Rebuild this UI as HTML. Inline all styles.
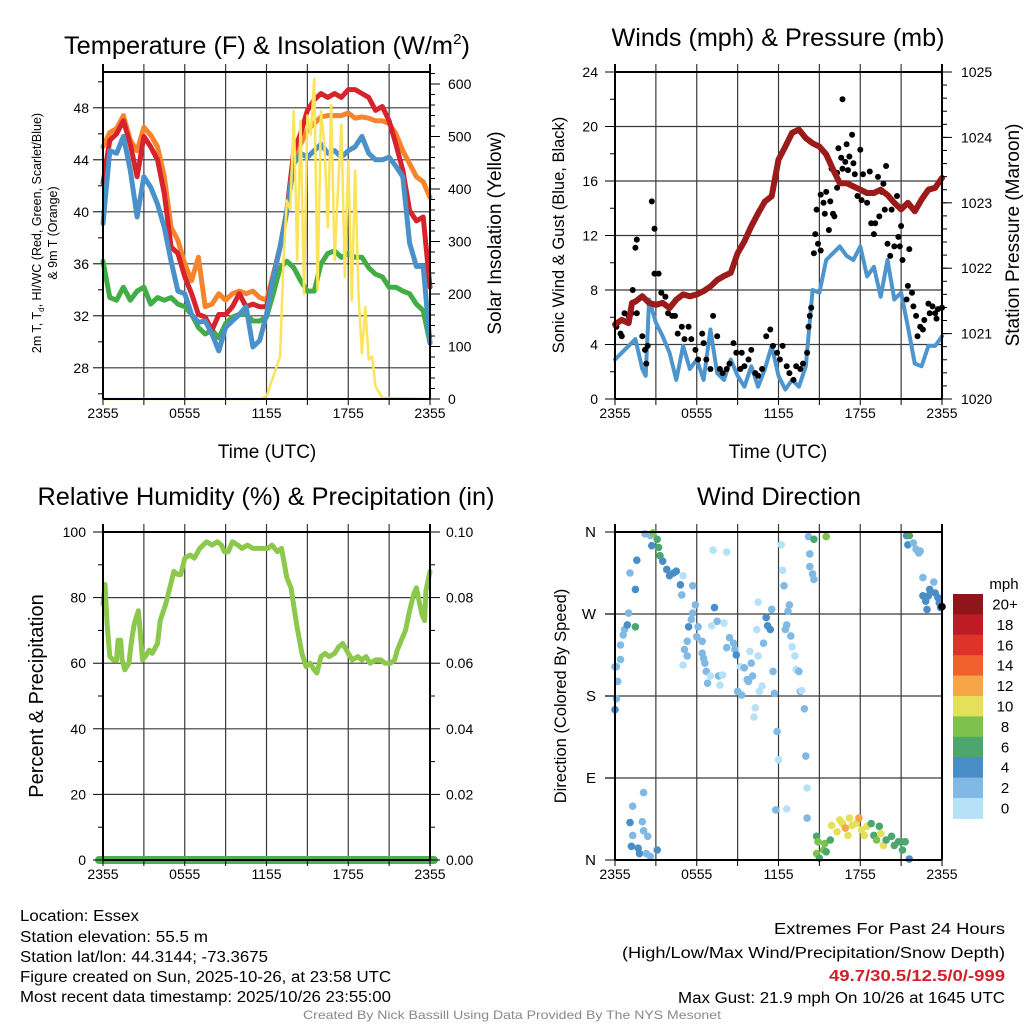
<!DOCTYPE html>
<html><head><meta charset="utf-8"><title>Mesonet Station Plots</title>
<style>
html,body{margin:0;padding:0;background:#fff;}
svg{display:block;font-family:"Liberation Sans",Arial,sans-serif;}
</style></head>
<body>
<svg id="fig" width="1024" height="1024" viewBox="0 0 1024 1024" xmlns="http://www.w3.org/2000/svg">
<rect x="0" y="0" width="1024" height="1024" fill="#fff"/>
<g id="grids"></g>
<g id="marks"></g>
<g id="axes"></g>

<!-- titles -->
<text x="267" y="54" font-size="25" text-anchor="middle" textLength="406" lengthAdjust="spacingAndGlyphs">Temperature (F) &amp; Insolation (W/m<tspan dy="-10" font-size="15">2</tspan><tspan dy="10">)</tspan></text>
<text x="778" y="46" font-size="25" text-anchor="middle" textLength="333" lengthAdjust="spacingAndGlyphs">Winds (mph) &amp; Pressure (mb)</text>
<text x="266" y="505" font-size="25" text-anchor="middle" textLength="457" lengthAdjust="spacingAndGlyphs">Relative Humidity (%) &amp; Precipitation (in)</text>
<text x="779" y="505" font-size="25" text-anchor="middle" textLength="164" lengthAdjust="spacingAndGlyphs">Wind Direction</text>

<!-- axis titles -->
<text x="267" y="458" font-size="19" text-anchor="middle">Time (UTC)</text>
<text x="778" y="458" font-size="19" text-anchor="middle">Time (UTC)</text>
<text transform="translate(41,233) rotate(-90)" font-size="12.5" text-anchor="middle">2m T, T<tspan font-size="8" dy="3">d</tspan><tspan dy="-3">, HI/WC (Red, Green, Scarlet/Blue)</tspan></text>
<text transform="translate(57,233) rotate(-90)" font-size="12.5" text-anchor="middle">&amp; 9m T (Orange)</text>
<text transform="translate(501,233) rotate(-90)" font-size="19" text-anchor="middle">Solar Insolation (Yellow)</text>
<text transform="translate(564,235) rotate(-90)" font-size="16.5" text-anchor="middle">Sonic Wind &amp; Gust (Blue, Black)</text>
<text transform="translate(1019,235) rotate(-90)" font-size="19" text-anchor="middle">Station Pressure (Maroon)</text>
<text transform="translate(43,696) rotate(-90)" font-size="20" text-anchor="middle">Percent &amp; Precipitation</text>
<text transform="translate(566,696) rotate(-90)" font-size="16.5" text-anchor="middle">Direction (Colored By Speed)</text>

<!-- footer -->
<g font-size="15.5" fill="#000">
<text x="20" y="921" textLength="119" lengthAdjust="spacingAndGlyphs">Location: Essex</text>
<text x="20" y="942" textLength="188" lengthAdjust="spacingAndGlyphs">Station elevation: 55.5 m</text>
<text x="20" y="962" textLength="248" lengthAdjust="spacingAndGlyphs">Station lat/lon: 44.3144; -73.3675</text>
<text x="20" y="982" textLength="371" lengthAdjust="spacingAndGlyphs">Figure created on Sun, 2025-10-26, at 23:58 UTC</text>
<text x="20" y="1002" textLength="371" lengthAdjust="spacingAndGlyphs">Most recent data timestamp: 2025/10/26 23:55:00</text>
</g>
<g font-size="15.5" fill="#000">
<text x="774" y="934" textLength="231" lengthAdjust="spacingAndGlyphs">Extremes For Past 24 Hours</text>
<text x="622" y="958" textLength="383" lengthAdjust="spacingAndGlyphs">(High/Low/Max Wind/Precipitation/Snow Depth)</text>
<text x="829" y="981" textLength="176" lengthAdjust="spacingAndGlyphs" fill="#d0202a" font-weight="bold">49.7/30.5/12.5/0/-999</text>
<text x="678" y="1003" textLength="327" lengthAdjust="spacingAndGlyphs">Max Gust: 21.9 mph On 10/26 at 1645 UTC</text>
</g>
<text x="512" y="1019" font-size="12" fill="#888" text-anchor="middle" textLength="418" lengthAdjust="spacingAndGlyphs">Created By Nick Bassill Using Data Provided By The NYS Mesonet</text>
</svg>

<script>
// ---------- Temperature panel data (hours since 2355 UTC) ----------
const tempHours = [0,0.5,1,1.5,2,2.5,3,3.5,4,4.5,5,5.5,6,6.5,7,7.5,8,8.5,9,9.5,10,10.5,11,11.5,12,12.5,13,13.5,14,14.5,15,15.5,16,16.5,17,17.5,18,18.5,19,19.5,20,20.5,21,21.5,22,22.5,23,23.5,24];
const temp2m = [42.2,45.5,46,47,45.2,42.7,45.8,45,44,41.4,37.3,36.8,35,33.7,32.1,31.9,30.9,32.1,32.1,32.7,33.7,32.7,32.9,32.7,32.7,35,37.3,40.1,44.7,46,47.8,48.6,49.1,48.8,49.1,48.8,49.4,49.4,49.1,48.8,47.8,48.1,47,45.2,43.2,40.1,39.3,39.6,34.2];
const temp9m = [45,46.1,46.4,47.4,45.5,44.7,46.5,45.9,45,42.7,38.8,37.8,36,34.7,36.5,32.7,32.9,33.7,33.2,33.7,33.9,33.7,33.9,33.4,33.2,35.2,37.3,40.1,43.7,45.2,46.3,46.8,47.3,47.4,47.4,47.4,47.6,47.2,47.3,47.2,47,47,46.8,46,44.7,43.7,42.7,42.3,41.1];
const heatWind = [39.1,44.7,44.5,45.8,43.2,39.6,42.7,41.9,40.6,38.8,36.2,33.9,33.7,32.1,31.5,31.6,30.6,29.3,31.1,31.6,32.1,32.7,29.6,30.1,32.1,35,37.3,40.1,43.7,44.5,44.2,44.7,45.2,44.5,44.7,44.2,44.7,45,45.8,44.5,44,44,44.2,43.5,42.7,37.6,35.8,35.8,29.9];
const dewPoint = [36.2,33.4,33.2,34.2,33.2,33.9,34.2,32.9,33.4,33.2,33.4,32.9,32.7,32.1,31.1,30.6,30.9,30.3,31.4,31.9,32.1,32.1,31.6,31.6,31.9,33.7,35.7,36.2,35.7,34.7,33.9,33.9,36,36.8,37,36.5,36.8,36.5,36.5,35.7,35.2,35,34.2,34.2,33.9,33.7,32.9,32.4,29.9];
const solarHours = [0,11.5,12,12.5,13,13.25,13.5,13.75,14,14.25,14.5,14.75,15,15.25,15.5,15.75,16,16.25,16.5,16.75,17,17.25,17.5,17.75,18,18.25,18.5,18.75,19,19.25,19.5,19.75,20,20.5,24];
const solarValues = [0,0,5,43,81,264,378,360,548,264,530,200,540,504,610,207,548,485,327,560,264,400,523,232,454,188,435,200,87,175,75,81,24,2,0];
const tempTicks = [28,32,36,40,44,48];
const solarTicks = [0,100,200,300,400,500,600];
const timeTickLabels = ["2355","0555","1155","1755","2355"];

// ---------- Wind panel data ----------
const pressHours = [0,0.5,1,1.25,1.5,2,2.5,3,3.5,4,4.5,5,5.5,6,6.5,7,7.5,8,8.5,9,9.5,10,10.5,11,11.5,12,12.5,13,13.5,14,14.5,15,15.5,16,16.5,17,17.5,18,18.5,19,19.5,20,20.5,21,21.5,22,22.5,23,23.5,24];
const pressValues = [1021.14,1021.21,1021.16,1021.47,1021.49,1021.57,1021.47,1021.44,1021.47,1021.39,1021.52,1021.60,1021.57,1021.60,1021.65,1021.72,1021.82,1021.88,1021.93,1022.23,1022.41,1022.64,1022.84,1023.02,1023.10,1023.66,1023.86,1024.07,1024.12,1023.99,1023.91,1023.86,1023.74,1023.51,1023.30,1023.30,1023.25,1023.20,1023.15,1023.15,1023.20,1023.12,1023.00,1022.90,1023.00,1022.87,1023.05,1023.20,1023.23,1023.38];
const windHours = [0,0.5,1,1.5,2,2.25,2.5,3,3.5,4,4.5,5,5.5,6,6.5,7,7.5,8,8.5,9,9.5,10,10.5,11,11.5,12,12.5,13,13.5,14,14.5,15,15.5,16,16.5,17,17.5,18,18.5,19,19.5,20,20.5,21,21.5,22,22.5,23,23.5,24];
const windSpeed = [2.9,3.4,3.9,4.4,2.2,1.7,7.3,5.6,4.6,3.4,1.4,3.9,2.2,2.9,1.4,5.1,1.9,1.4,2.9,1.7,0.9,2.4,0.9,2.2,3.9,1.7,0.7,1.4,0.9,2.4,8.0,7.8,10.2,10.7,11.2,10.5,10.2,11.2,9,9.7,7.5,10.2,7.3,7.8,5.3,2.6,2.4,3.9,3.9,4.6];
const gustHours = [0.1,0.4,0.5,0.7,1,1.2,1.5,1.6,1.3,1.6,2,2.2,2.3,2.4,2.7,2.9,2.9,3.2,3.4,3.7,3.9,4.2,4.4,4.6,4.9,5.1,5.4,5.6,5.9,6.1,6.4,6.5,6.7,7,7.2,7.5,7.7,7.9,8.2,8.4,8.7,8.9,9.2,9.3,9.5,9.8,10,10.3,10.5,10.8,11.1,11.4,11.6,11.9,12.1,12.3,12.6,12.8,13.1,13.3,13.6,13.8,14.1,14.2,14.3,14.4,14.6,14.7,14.8,14.9,15.1,15.1,15.3,15.4,15.5,15.7,15.8,15.9,16,16.1,16.3,16.3,16.4,16.6,16.7,16.7,16.9,17,17.1,17.2,17.4,17.5,17.6,17.8,18,18.1,18.2,18.5,18.7,18.8,19,19.1,19.3,19.4,19.6,19.7,19.8,19.9,20,20.2,20.3,20.5,20.7,20.8,20.9,21,21.1,21.4,21.5,21.6,21.8,21.9,22.1,22.2,22.4,22.6,22.7,23,23.1,23.3,23.5,23.6,23.7,24];
const gustSpeed = [5.3,4.8,4.6,6.3,6.1,6.3,11.1,11.7,8,6.3,4.6,3.6,2.6,3.9,14.5,12.5,9.2,9.2,7.8,7.5,6.3,6.1,6.1,4.8,5.3,4.4,5.3,4.4,3.6,2.9,4.8,4.1,2.9,2.2,6.1,4.6,2.2,1.9,2.2,2.6,4.1,3.4,2.2,3.4,2.4,2.9,3.6,1.9,1.7,2.2,4.6,5.1,3.9,3.4,2.9,3.9,2.4,1.9,1.4,2.4,2.2,2.6,3.4,5.3,6.1,6.7,10.7,12.1,13.9,11.4,15,10.9,14.4,13.6,15.2,12.4,14.5,16.9,13.6,13.4,16.6,15.5,18.4,17.7,16.9,22,17.4,18.7,16.8,17.8,19.4,17.3,16.5,14.9,18.3,14.6,16.5,14.4,16.7,12.9,12.1,12.9,16.3,13.4,15.2,15.8,13.9,17.1,11.4,10.5,13.9,11.2,14.9,11.9,11.2,12.7,10.2,7.3,8.3,11,7.8,6.8,6.1,4.6,5.3,5.1,5.8,7,6.3,6.8,6.3,5.9,6.6,6.7];
const windTicks = [0,4,8,12,16,20,24];
const pressTicks = [1020,1021,1022,1023,1024,1025];

// ---------- Humidity panel data ----------
const rhHours = [0,0.15,0.3,0.5,0.75,1,1.1,1.3,1.4,1.6,1.9,2.1,2.3,2.6,2.9,3.1,3.4,3.6,4,4.2,4.6,4.9,5.2,5.5,5.7,6,6.4,6.7,7.1,7.6,8,8.4,8.7,8.9,9.2,9.5,9.9,10.2,10.6,11,11.4,11.7,12.1,12.4,12.8,13.1,13.5,13.8,14.2,14.6,14.9,15.2,15.5,15.7,16,16.3,16.6,17,17.3,17.6,18,18.3,18.7,19,19.3,19.6,20,20.4,20.7,21.1,21.4,21.6,21.9,22.2,22.5,22.8,23,23.2,23.4,23.6,23.7,24];
const rhValues = [78,84,72,62,61,61,67,67,61,58,60,67,72,76,61,62,64,63,66,73,78,83,88,87,87,92,93,92,95,97,96,97,96,94,94,97,96,95,96,95,95,95,95,96,94,95,86,83,72,63,59,60,58,57,62,63,62,63,65,66,63,61,62,61,62,60,61,61,60,60,61,64,67,70,76,81,83,79,75,73,82,88];
const precipHours = [0,24];
const precipValues = [0,0];
const rhTicks = [0,20,40,60,80,100];
const precipTickLabels = ["0.00","0.02","0.04","0.06","0.08","0.10"];

// ---------- Wind direction panel data ----------
const dirHours = [0,0.1,0.2,0.1,0,0.4,0.4,0.6,0.7,0.9,1,1.5,1.1,1.5,1.6,2.2,2.6,2.7,2.8,3.1,3.2,3.3,3.5,3.8,4,4.3,4.5,4.8,5,4.9,5.7,5.9,5.7,5.6,5.4,6.1,5.3,5.1,5,5.3,6,6.4,6.4,6.5,6.6,6.7,6.8,7,7.3,7.5,7.6,7.7,7.1,7.2,8.2,7.9,8,8.2,8.4,8.7,8.8,8.9,9,9.3,9.2,9.5,9.7,9.8,9.9,10,10.1,10.3,10.2,10.4,10.5,10.5,10.6,10.8,10.9,11.1,11.2,11.4,11.5,11.6,11.7,11.9,12,11.8,12.6,12.2,12.3,12.4,12.5,12.6,12.7,12.8,12.9,13,13.2,13.3,13.5,13.6,13.7,13.9,14,14.1,14.1,14.2,14.3,14.3,14.5,14.6,14.6,15.5,2.1,1.3,1.1,2,2.1,2.4,1.3,1.2,1.7,1.8,2.3,2.6,3.1,14.8,14.9,14.8,15,15.3,15.4,15.5,15.8,15.9,16.3,16.5,16.7,16.9,17.1,17.2,17.4,17.7,17.9,18.1,18.3,18.5,18.8,19,19.2,19.4,19.5,19.7,19.9,20.3,20.5,20.8,21,21.1,21.3,21.6,21.4,21.5,21.6,21.9,22.1,22.3,22.4,22.6,22.6,22.8,22.9,23,23.1,23.4,23.5,23.7,23.8,23.9,24];
const dirDegrees = [212,212,196,177,165,220,236,247,253,258,271,256,315,297,329,358,356,345,359,352,343,334,328,319,312,315,317,302,312,291,301,280,271,264,256,256,240,231,214,224,245,240,227,221,216,207,194,202,277,262,202,192,257,340,338,203,260,233,244,238,231,225,185,181,212,211,198,196,229,216,202,167,157,253,283,224,185,191,238,266,257,253,275,207,183,141,110,55,56,346,318,301,253,258,273,280,246,234,224,209,207,185,186,166,114,79,46,355,336,322,314,308,352,355,74,59,41,42,32,26,27,15,13,7,7,4,11,26,20,7,2,11,18,9,22,38,31,44,40,35,27,46,38,40,46,33,27,37,40,27,22,37,29,16,22,26,16,20,20,11,20,1,356,346,356,348,341,337,339,310,290,284,275,290,297,305,293,288,282,277,278];
const dirSpeedBin = [1,1,1,1,2,1,1,1,1,2,1,3,1,2,2,1,1,2,4,3,3,3,2,2,2,2,2,2,0,1,1,1,1,1,2,1,1,1,0,1,1,1,1,1,1,1,1,0,2,1,1,0,0,0,0,0,0,1,1,1,1,2,1,1,0,1,1,1,0,1,1,0,0,0,0,0,0,0,1,2,2,2,1,1,1,1,0,1,0,0,0,1,1,1,1,1,1,0,0,0,1,1,0,1,1,0,1,1,1,1,1,1,3,4,1,1,2,1,1,1,1,2,2,2,1,1,2,3,4,4,3,4,4,3,3,5,5,5,5,6,5,5,5,5,6,5,5,5,3,3,4,3,5,5,3,3,3,3,3,3,3,2,2,2,3,1,1,1,1,1,2,2,2,2,2,1,2,2,2,2];
const dirTickLabels = ["N","E","S","W","N"];
const speedLegendLabels = ["20+","18","16","14","12","10","8","6","4","2","0"];
const speedColors = ["#b6e1f6","#80b9e4","#4a8ec8","#4ba76e","#7dc24c","#e5e05a","#f6a646","#f0612e","#de3328","#bd1b26","#8e1519"];

// ---------- axis functions ----------
const P1 = {x0:103, x1:430, y0:72, y1:399};
const P2 = {x0:615, x1:942, y0:72, y1:399};
const P3 = {x0:103, x1:430, y0:532, y1:860};
const P4 = {x0:615, x1:942, y0:532, y1:860};
function xT(p,h){ return p.x0 + h*(p.x1-p.x0)/24; }
function yTemp(v){ return 399 - (v-25.6)*13; }
function ySolar(v){ return 399 - v*(315/600); }
function yWind(v){ return 399 - v*(327/24); }
function yPress(v){ return 399 - (v-1020)*(327/5); }
function yRH(v){ return 860 - v*3.28; }
function yPrecip(v){ return 860 - v*3280; }
function yDir(d){ return 860 - d*(328/360); }

const NS='http://www.w3.org/2000/svg';
const grids=document.getElementById('grids');
const marks=document.getElementById('marks');
const axes=document.getElementById('axes');
function mk(tag,parent,attrs){ const e=document.createElementNS(NS,tag); for(const k in attrs) e.setAttribute(k,attrs[k]); parent.appendChild(e); return e; }

function seriesPath(p,hours,vals,yf){
  let d='';
  for(let i=0;i<hours.length;i++){ d+=(i?'L':'M')+xT(p,hours[i]).toFixed(1)+' '+yf(vals[i]).toFixed(1); }
  return d;
}
function drawLine(p,hours,vals,yf,color,w,name){
  const el=mk('path',marks,{d:seriesPath(p,hours,vals,yf),fill:'none',stroke:color,'stroke-width':w,'stroke-linejoin':'round','stroke-linecap':'round'});
  
  
  return el;
}
function gridLine(x1,y1,x2,y2,name){
  const el=mk('line',grids,{x1:x1,y1:y1,x2:x2,y2:y2,stroke:'#3a3a3a','stroke-width':1.2});
  
  
}
function tick(x1,y1,x2,y2){
  const el=mk('line',axes,{x1:x1,y1:y1,x2:x2,y2:y2,stroke:'#000','stroke-width':1});
  
  
}
function label(x,y,txt,anchor,size,name){
  const el=mk('text',axes,{x:x,y:y,'text-anchor':anchor,'font-size':size});
  el.textContent=txt;
  
  
  return el;
}
function frame(p,name){
  const el=mk('path',axes,{d:`M${p.x0} ${p.y0-8}V${p.y1}M${p.x1} ${p.y0-8}V${p.y1}M${p.x0} ${p.y0}H${p.x1}M${p.x0} ${p.y1}H${p.x1}`,stroke:'#000','stroke-width':2,fill:'none'});
  
  
}
function timeAxis(p,labelY){
  for(let k=0;k<=8;k++){
    const x=xT(p,k*3);
    if(k>0&&k<8) gridLine(x,p.y0-8,x,p.y1,'vertical-grid-line');
    tick(x,p.y1,x,p.y1+6);
  }
  for(let k=0;k<timeTickLabels.length;k++){
    label(xT(p,k*6),labelY,timeTickLabels[k],'middle',14,'x-tick-label');
  }
}

// ----- panel 1 -----
timeAxis(P1,418);
tempTicks.forEach(v=>{ const y=yTemp(v); gridLine(P1.x0,y,P1.x1,y,'horizontal-grid-line'); tick(P1.x0-10,y,P1.x0,y); label(P1.x0-14,y+5,String(v),'end',14,'temperature-tick-label'); });
for(let v=26;v<=50;v+=2){ if(v%4) tick(P1.x0-5,yTemp(v),P1.x0,yTemp(v)); }
solarTicks.forEach(v=>{ const y=ySolar(v); tick(P1.x1,y,P1.x1+10,y); label(P1.x1+18,y+5,String(v),'start',14,'solar-tick-label'); });
for(let v=20;v<=620;v+=20){ if(v%100) tick(P1.x1,ySolar(v),P1.x1+5,ySolar(v)); }
drawLine(P1,tempHours,dewPoint,yTemp,'#43ad45',5,'dewpoint-line');
drawLine(P1,tempHours,temp9m,yTemp,'#f5842c',5,'temp-9m-line');
drawLine(P1,tempHours,temp2m,yTemp,'#d7232b',5,'temp-2m-line');
drawLine(P1,tempHours,heatWind,yTemp,'#4a90c9',5,'heat-index-windchill-line');
drawLine(P1,solarHours,solarValues,ySolar,'#fbe35a',2.5,'solar-insolation-line');
frame(P1,'temperature-plot-frame');

// ----- panel 2 -----
timeAxis(P2,418);
windTicks.forEach(v=>{ const y=yWind(v); if(v>0&&v<24) gridLine(P2.x0,y,P2.x1,y,'horizontal-grid-line'); tick(P2.x0-10,y,P2.x0,y); label(P2.x0-17,y+5,String(v),'end',14,'wind-tick-label'); });
for(let v=2;v<=24;v+=4) tick(P2.x0-5,yWind(v),P2.x0,yWind(v));
pressTicks.forEach(v=>{ const y=yPress(v); tick(P2.x1,y,P2.x1+10,y); label(P2.x1+19,y+5,String(v),'start',14,'pressure-tick-label'); });
for(let v=1020.2;v<1025;v+=0.2){ tick(P2.x1,yPress(v),P2.x1+5,yPress(v)); }
drawLine(P2,windHours,windSpeed,yWind,'#4d95cc',4,'sonic-wind-line');
for(let i=0;i<gustHours.length;i++){
  const c=mk('circle',marks,{cx:xT(P2,gustHours[i]).toFixed(1),cy:yWind(gustSpeed[i]).toFixed(1),r:3,fill:'#000'});
  
  
}
drawLine(P2,pressHours,pressValues,yPress,'#9b1a1a',6,'station-pressure-line');
frame(P2,'wind-plot-frame');

// ----- panel 3 -----
timeAxis(P3,879);
rhTicks.forEach((v,i)=>{ const y=yRH(v); if(v>0&&v<100) gridLine(P3.x0,y,P3.x1,y,'horizontal-grid-line'); tick(P3.x0-10,y,P3.x0,y); label(P3.x0-17,y+5,String(v),'end',14,'humidity-tick-label'); tick(P3.x1,y,P3.x1+10,y); label(P3.x1+16,y+5,precipTickLabels[i],'start',14,'precip-tick-label'); });
for(let v=10;v<100;v+=20){ tick(P3.x0-5,yRH(v),P3.x0,yRH(v)); tick(P3.x1,yRH(v),P3.x1+5,yRH(v)); }
drawLine(P3,rhHours,rhValues,yRH,'#8cc84b',5,'relative-humidity-line');
frame(P3,'humidity-plot-frame');
const pr=drawLine(P3,precipHours,precipValues,yPrecip,'#4caf50',8,'precipitation-line');
pr.setAttribute('d','M'+(P3.x0-4)+' '+yPrecip(precipValues[0])+'L'+(P3.x1+4)+' '+yPrecip(precipValues[1]));

// ----- panel 4 -----
timeAxis(P4,879);
dirTickLabels.forEach((t,i)=>{ const y=yDir(i*90); if(i>0&&i<4) gridLine(P4.x0-10,y,P4.x1,y,'horizontal-grid-line'); tick(P4.x0-10,y,P4.x0,y); label(P4.x0-19,y+5,t,'end',15,'direction-tick-label'); });
for(let i=0;i<dirHours.length;i++){
  const c=mk('circle',marks,{cx:xT(P4,dirHours[i]).toFixed(1),cy:yDir(dirDegrees[i]).toFixed(1),r:3.8,fill:speedColors[dirSpeedBin[i]]});
  
  
}
frame(P4,'direction-plot-frame');

// colorbar
label(1004,589,'mph','middle',15,'colorbar-title');
for(let i=0;i<speedLegendLabels.length;i++){
  const y=594+i*20.4;
  const r=mk('rect',axes,{x:953,y:y.toFixed(1),width:30,height:21,fill:speedColors[10-i]});
  
  
  label(1005,y+15.5,speedLegendLabels[i],'middle',15,'colorbar-label');
}
</script>
</body></html>
